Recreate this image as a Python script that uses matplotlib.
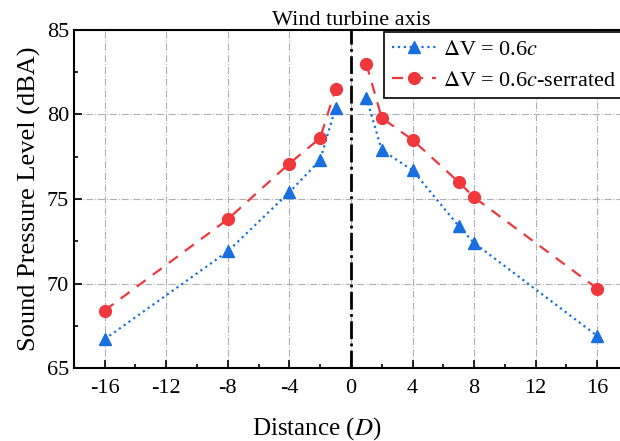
import numpy as np
import matplotlib.pyplot as plt
from matplotlib.ticker import MultipleLocator

plt.rcParams['font.family'] = ['Liberation Serif', 'DejaVu Serif']
plt.rcParams['mathtext.fontset'] = 'stix'
plt.rcParams['axes.unicode_minus'] = False

# data (left and right of the turbine axis)
dist_left = [-16, -8, -4, -2, -1]
dist_right = [1, 2, 4, 7, 8, 16]
plain_left = [66.7, 71.9, 75.4, 77.3, 80.4]
plain_right = [81.0, 77.9, 76.7, 73.4, 72.4, 66.9]
serr_left = [68.4, 73.8, 77.1, 78.6, 81.5]
serr_right = [83.0, 79.8, 78.5, 76.0, 75.1, 69.7]
xticks = [-16, -12, -8, -4, 0, 4, 8, 12, 16]
yticks = [65, 70, 75, 80, 85]

blue = '#1a6fdf'
red = '#f0383c'

fig = plt.figure(figsize=(6.2, 4.41), dpi=100)
ax = fig.add_axes([0.119, 0.1655, 0.894, 0.7665])

ax.plot(dist_left, plain_left, ':', color=blue, marker='^', markersize=9,
        lw=1.6, label=r'$\Delta$V = 0.6$c$')
ax.plot(dist_right, plain_right, ':', color=blue, marker='^', markersize=9,
        lw=1.6)
ax.plot(dist_left, serr_left, '--', color=red, marker='o', markersize=8.5,
        lw=1.6, dashes=(5, 4), label=r'$\Delta$V = 0.6$c$-serrated')
ax.plot(dist_right, serr_right, '--', color=red, marker='o', markersize=8.5,
        lw=1.6, dashes=(5, 4))

ax.axvline(0, color='black', ls='-.', lw=2)

ax.set_xlim(-18, 18)
ax.set_ylim(65, 85)
ax.set_xticks(xticks)
ax.set_yticks(yticks)
ax.xaxis.set_minor_locator(MultipleLocator(2))
ax.yaxis.set_minor_locator(MultipleLocator(2.5))
ax.tick_params(which='both', direction='in', labelsize=16, width=1.2)
ax.tick_params(which='major', length=6)
ax.tick_params(which='minor', length=3)
ax.tick_params(axis='x', pad=8)
ax.grid(True, which='major', ls='-.', color='#b0b0b0', lw=0.8)
for s in ax.spines.values():
    s.set_linewidth(1.5)

ax.set_xlabel('Distance ($D$)', fontsize=18, labelpad=10)
ax.xaxis.set_label_coords(0.4375, -0.14)
ax.set_ylabel('Sound Pressure Level (dBA)', fontsize=19)
ax.set_title('Wind turbine axis', fontsize=16, pad=2, x=0.5)

leg = ax.legend(loc='upper left', bbox_to_anchor=(0.56, 0.995),
                borderaxespad=0, fontsize=16, frameon=True, fancybox=False,
                edgecolor='black', handlelength=2.0, borderpad=0.35,
                labelspacing=0.45, handletextpad=0.3, framealpha=1)
leg.get_frame().set_linewidth(1.2)

fig.savefig('out.png', dpi=100)
